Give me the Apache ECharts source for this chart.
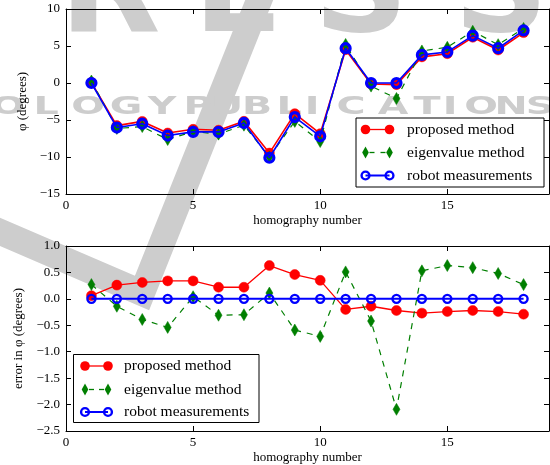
<!DOCTYPE html>
<html>
<head>
<meta charset="utf-8">
<script src="https://cdn.jsdelivr.net/npm/echarts@6/dist/echarts.min.js"></script>
<style>
  html, body { margin: 0; padding: 0; background: #fff; }
  #chart { width: 550px; height: 465px; }
</style>
</head>
<body>
<div id="chart"></div>
<script>
// homography index shared by both panels
const homography = [1, 2, 3, 4, 5, 6, 7, 8, 9, 10, 11, 12, 13, 14, 15, 16, 17, 18];

// rotation angle phi (degrees)
const proposedAngle = [0.06, -5.76, -5.19, -6.76, -6.26, -6.38, -5.18, -9.47, -4.14, -6.85, 4.50, -0.14, -0.22, 3.53, 3.96, 6.18, 4.46, 6.81];
const eigenAngle    = [0.27, -6.14, -5.89, -7.64, -6.56, -6.91, -5.70, -9.99, -5.19, -7.91, 5.21, -0.42, -2.09, 4.33, 4.83, 6.99, 5.18, 7.37];
const robotAngle    = [0.00, -6.02, -5.50, -7.10, -6.60, -6.61, -5.40, -10.10, -4.60, -7.20, 4.70, 0.00, 0.00, 3.80, 4.20, 6.40, 4.70, 7.10];

// error in phi relative to the robot measurements (degrees)
const proposedError = [0.06, 0.26, 0.31, 0.34, 0.34, 0.22, 0.22, 0.63, 0.46, 0.35, -0.20, -0.14, -0.22, -0.27, -0.24, -0.22, -0.24, -0.29];
const eigenError    = [0.27, -0.14, -0.39, -0.54, 0.04, -0.31, -0.30, 0.11, -0.59, -0.71, 0.51, -0.42, -2.09, 0.53, 0.63, 0.59, 0.48, 0.27];
const robotError    = [0, 0, 0, 0, 0, 0, 0, 0, 0, 0, 0, 0, 0, 0, 0, 0, 0, 0];

const seriesNames = ['proposed method', 'eigenvalue method', 'robot measurements'];
const xTicks = { min: 0, max: 19, interval: 5 };
const yTicksAngle = { min: -15, max: 10, interval: 5 };
const yTicksError = { min: -2.5, max: 1.0, interval: 0.5 };

const SERIF = 'Liberation Serif';
const RED = '#ff0000', GREEN = '#007f00', BLUE = '#0000ff';
const WM = '#cdcdcd';

const pairs = (ys) => homography.map((x, i) => [x, ys[i]]);
const minus = (s) => String(s).replace('-', '\u2212');

function xAxisFor(grid, pos, showLabels) {
  return {
    type: 'value', gridIndex: grid, position: pos,
    min: xTicks.min, max: xTicks.max, interval: xTicks.interval,
    name: showLabels ? 'homography number' : '',
    nameLocation: 'middle', nameGap: 20,
    nameTextStyle: { fontFamily: SERIF, fontSize: 13, color: '#000' },
    axisLine: { show: true, onZero: false, lineStyle: { color: '#000', width: 1 } },
    axisTick: { show: true, inside: true, length: 5, lineStyle: { color: '#000', width: 1 } },
    axisLabel: { show: showLabels, showMaxLabel: false, margin: 5, color: '#000',
                 fontFamily: SERIF, fontSize: 13, formatter: (v) => minus(v) },
    splitLine: { show: false }
  };
}

function yAxisFor(grid, pos, ticks, name, gap, digits) {
  const showLabels = pos === 'left';
  return {
    type: 'value', gridIndex: grid, position: pos,
    min: ticks.min, max: ticks.max, interval: ticks.interval,
    name: showLabels ? name : '',
    nameLocation: 'middle', nameRotate: 90, nameGap: gap,
    nameTextStyle: { fontFamily: SERIF, fontSize: 13, color: '#000' },
    axisLine: { show: true, onZero: false, lineStyle: { color: '#000', width: 1 } },
    axisTick: { show: true, inside: true, length: 5, lineStyle: { color: '#000', width: 1 } },
    axisLabel: { show: showLabels, margin: 6, color: '#000', fontFamily: SERIF, fontSize: 13,
                 formatter: (v) => minus(v.toFixed(digits)) },
    splitLine: { show: false }
  };
}

function lineSeries(kind, xi, yi, values, big) {
  const base = {
    type: 'line', xAxisIndex: xi, yAxisIndex: yi, data: pairs(values),
    showAllSymbol: true, animation: false, silent: true
  };
  if (kind === 0) {
    return Object.assign(base, {
      name: seriesNames[0], z: 3,
      symbol: 'circle', symbolSize: 10,
      lineStyle: { color: RED, width: big ? 1.6 : 1.3 },
      itemStyle: { color: RED, borderColor: RED, borderWidth: 0.5 }
    });
  }
  if (kind === 1) {
    return Object.assign(base, {
      name: seriesNames[1], z: 4,
      symbol: 'diamond', symbolSize: [7, 12],
      lineStyle: { color: GREEN, width: 1.2, type: [6, 6] },
      itemStyle: { color: GREEN, borderColor: GREEN, borderWidth: 0.5 }
    });
  }
  return Object.assign(base, {
    name: seriesNames[2], z: 5,
    symbol: 'circle', symbolSize: big ? 9 : 8,
    lineStyle: { color: BLUE, width: big ? 1.6 : 2 },
    itemStyle: { color: 'rgba(0,0,0,0)', borderColor: BLUE, borderWidth: big ? 3.2 : 2.4 }
  });
}

// legend drawn as plain shapes: frame, two markers joined by the line style, label
function legendBlock(bx, by, bw, bh, rows, mx1, mx2, tx) {
  const els = [{
    type: 'rect', z: 20,
    shape: { x: bx, y: by, width: bw, height: bh },
    style: { fill: '#fff', stroke: '#000', lineWidth: 1 }
  }];
  rows.forEach((ry, k) => {
    if (k === 0) {
      els.push({ type: 'line', z: 21, shape: { x1: mx1, y1: ry, x2: mx2, y2: ry }, style: { stroke: RED, lineWidth: 1.3 } });
      [mx1, mx2].forEach((cx) => els.push({ type: 'circle', z: 22, shape: { cx, cy: ry, r: 4.8 }, style: { fill: RED } }));
    } else if (k === 1) {
      els.push({ type: 'line', z: 21, shape: { x1: mx1 + 4, y1: ry, x2: mx1 + 9, y2: ry }, style: { stroke: GREEN, lineWidth: 1.3 } });
      els.push({ type: 'line', z: 21, shape: { x1: mx2 - 9, y1: ry, x2: mx2 - 4, y2: ry }, style: { stroke: GREEN, lineWidth: 1.3 } });
      [mx1, mx2].forEach((cx) => els.push({ type: 'polygon', z: 22,
        shape: { points: [[cx, ry - 6], [cx + 3.3, ry], [cx, ry + 6], [cx - 3.3, ry]] }, style: { fill: GREEN } }));
    } else {
      els.push({ type: 'line', z: 21, shape: { x1: mx1, y1: ry, x2: mx2, y2: ry }, style: { stroke: BLUE, lineWidth: 2 } });
      [mx1, mx2].forEach((cx) => els.push({ type: 'circle', z: 22, shape: { cx, cy: ry, r: 3.9 },
        style: { fill: 'rgba(0,0,0,0)', stroke: BLUE, lineWidth: 2.4 } }));
    }
    els.push({ type: 'text', z: 22, style: { text: seriesNames[k], x: tx, y: ry,
      fontFamily: SERIF, fontSize: 15.5, fill: '#000', verticalAlign: 'middle', align: 'left' } });
  });
  return els;
}

// faint publisher watermark behind both panels
function watermark() {
  const els = [];
  els.push({ type: 'polyline', z: -10,
    shape: { points: [[-30, 219], [142, 293], [262, -7]] },
    style: { stroke: WM, lineWidth: 26, fill: null, lineJoin: 'miter' } });
  const top = [['P', -3], ['R', 110], ['E', 238], ['S', 361], ['S', 501]];
  top.forEach(([ch, cx]) => els.push({ type: 'text', z: -10, x: cx, y: -1.5, scaleX: 1.05,
    style: { text: ch, x: 0, y: 0, fontFamily: 'DejaVu Sans', fontWeight: 'bold', fontSize: 125,
             fill: WM, align: 'center', verticalAlign: 'middle' } }));
  const mid = [['O', 8], ['L', 46], ['O', 88], ['G', 126], ['Y', 162],
               ['P', 198], ['U', 227], ['B', 257], ['L', 289], ['I', 312], ['C', 351], ['A', 393],
               ['T', 427], ['I', 450], ['O', 481], ['N', 511], ['S', 540]];
  mid.forEach(([ch, cx]) => els.push({ type: 'text', z: -10, x: cx, y: 108, scaleX: 1.65,
    style: { text: ch, x: 0, y: 0, fontFamily: 'DejaVu Sans', fontWeight: 'bold', fontSize: 24,
             fill: WM, align: 'center', verticalAlign: 'middle' } }));
  return els;
}

const chart = echarts.init(document.getElementById('chart'), null, { renderer: 'canvas' });
chart.setOption({
  animation: false,
  backgroundColor: '#fff',
  grid: [
    { left: 66, right: 1, top: 9, height: 185, show: false },
    { left: 66, right: 1, top: 246, height: 185, show: false }
  ],
  xAxis: [
    xAxisFor(0, 'bottom', true),
    xAxisFor(1, 'bottom', true),
    xAxisFor(0, 'top', false),
    xAxisFor(1, 'top', false)
  ],
  yAxis: [
    yAxisFor(0, 'left', yTicksAngle, '\u03c6 (degrees)', 29, 0),
    yAxisFor(1, 'left', yTicksError, 'error in \u03c6 (degrees)', 35, 1),
    yAxisFor(0, 'right', yTicksAngle, '', 0, 0),
    yAxisFor(1, 'right', yTicksError, '', 0, 1)
  ],
  series: [
    lineSeries(0, 0, 0, proposedAngle, true),
    lineSeries(1, 0, 0, eigenAngle, true),
    lineSeries(2, 0, 0, robotAngle, true),
    lineSeries(0, 1, 1, proposedError, false),
    lineSeries(1, 1, 1, eigenError, false),
    lineSeries(2, 1, 1, robotError, false)
  ],
  graphic: [].concat(
    watermark(),
    legendBlock(356, 118, 188, 69, [129.5, 152.5, 175.5], 365.5, 389.5, 407),
    legendBlock(73.5, 354.5, 185.5, 68, [366, 389.5, 412], 85, 108, 124)
  )
});
</script>
</body>
</html>
